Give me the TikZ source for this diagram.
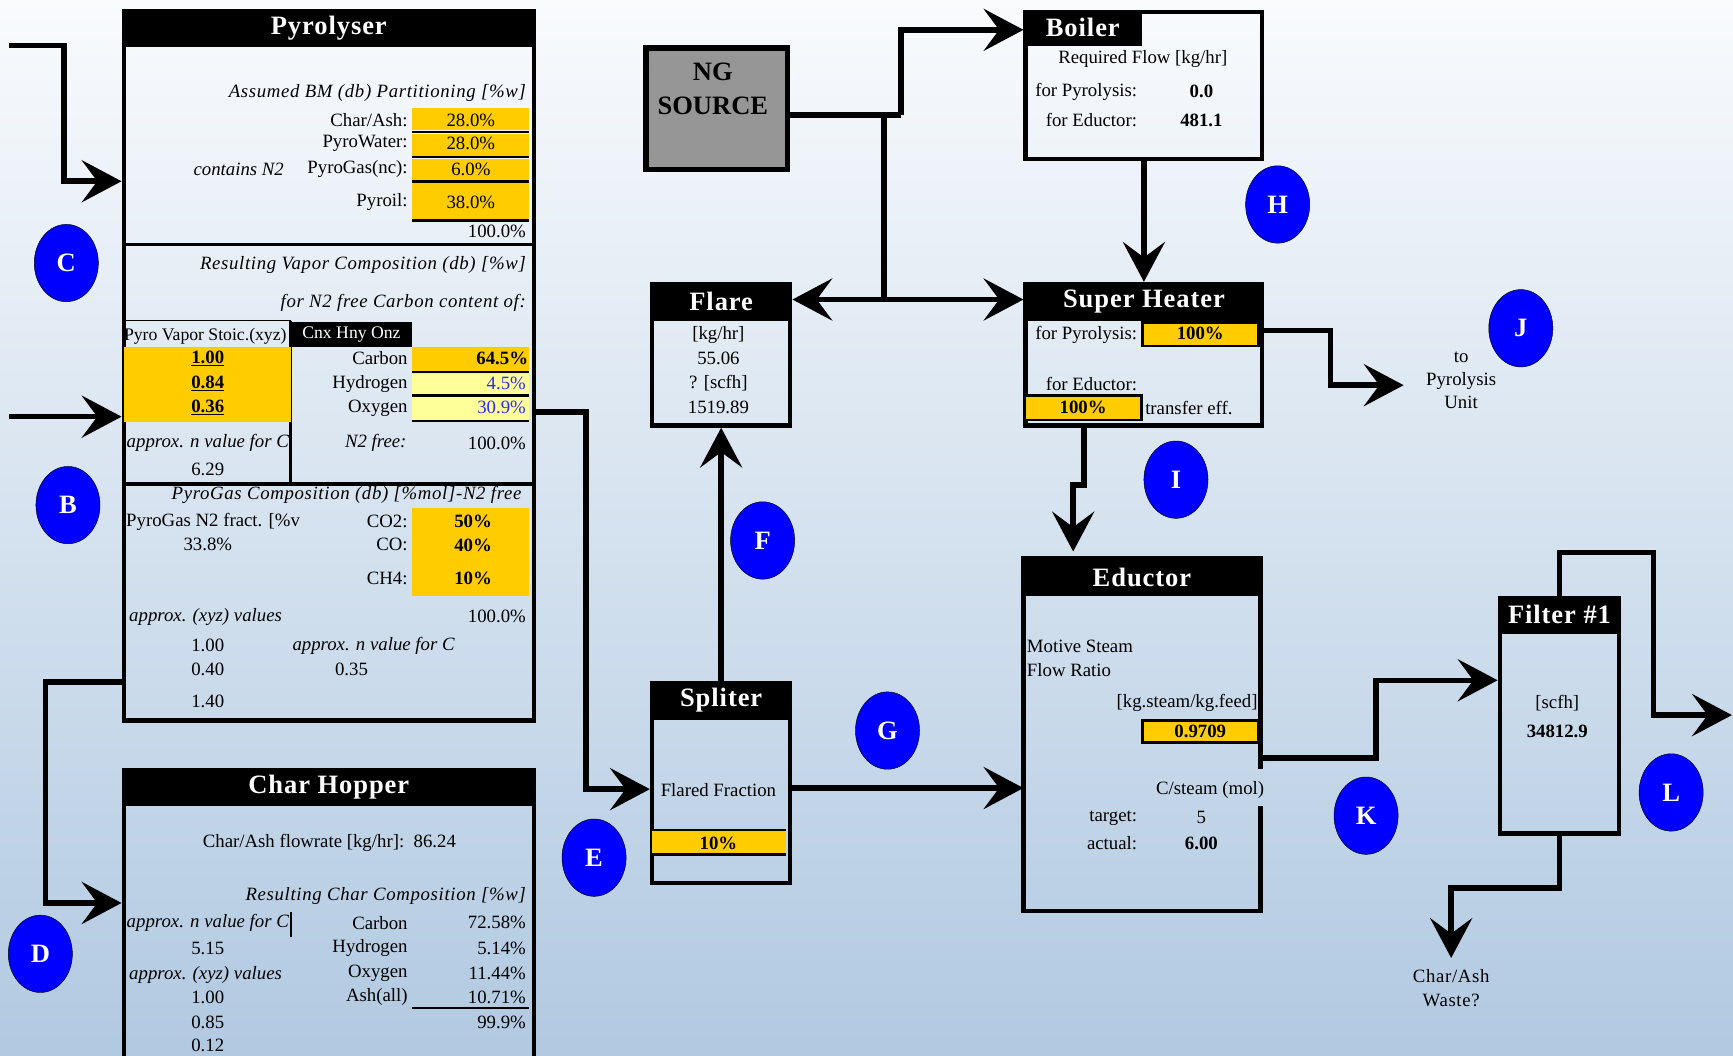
\documentclass[tikz,border=0pt]{standalone}
\usepackage{fontspec}
\setmainfont{Liberation Serif}
\newfontfamily\spacedserif[LetterSpace=3.5]{Liberation Serif}
\usetikzlibrary{arrows.meta,positioning,shapes.geometric}

\definecolor{cellgold}{HTML}{FFCC00}
\definecolor{celllight}{HTML}{FFFF99}
\definecolor{tagblue}{HTML}{0000FF}
\definecolor{valblue}{HTML}{2B2BFF}
\definecolor{bgtop}{HTML}{F9FBFD}
\definecolor{bgbot}{HTML}{B1C9E1}
\definecolor{nggray}{HTML}{969696}

\tikzset{
  unitbox/.style={draw, line width=4pt, inner sep=0pt},
  headbar/.style={fill=black, text=white, inner sep=0pt, font=\fontsize{24}{26}\spacedserif\bfseries},
  txt/.style={inner sep=0pt, font=\fontsize{17}{19}\selectfont},
  itxt/.style={inner sep=0pt, font=\fontsize{17}{19}\spacedserif\itshape},
  ntxt/.style={inner sep=0pt, font=\fontsize{17}{19}\selectfont\itshape},
  btxt/.style={inner sep=0pt, font=\fontsize{17}{19}\selectfont\bfseries},
  gold/.style={fill=cellgold},
  sep/.style={line width=2.5pt},
  pipe/.style={line width=5pt},
  flow/.style={line width=5pt, -{Stealth[length=36pt,width=38pt,inset=14pt]}},
  tag/.style={ellipse, draw, thin, fill=tagblue, text=white, minimum width=58pt, minimum height=70pt, inner sep=0pt, font=\fontsize{24}{26}\selectfont\bfseries},
}

\begin{document}
\begin{tikzpicture}[x=1pt, y=-1pt]
    \useasboundingbox (0,0) rectangle (1568,955.4);
    \clip (0,0) rectangle (1568,955.4);
    % Background
    \shade[top color=bgtop, bottom color=bgbot] (0,0) rectangle (1568,955.4);

    % Pyrolyser
    \node[unitbox, minimum width=371pt, minimum height=642pt, anchor=north west] (pyro) at (110,8) {};
    \node[headbar, minimum width=371pt, minimum height=34pt, anchor=north] (pyrohead) at (pyro.north) {Pyrolyser};
    \draw[line width=3pt] (110,221) -- (481,221);
    \draw[line width=3pt] (110,438) -- (481,438);

    % partitioning
    \node[itxt, anchor=east] (bmpart) at (476,84) {Assumed BM (db) Partitioning [\%w]};
    \fill[gold] (373,98) rectangle (479,118);
    \fill[gold] (373,121) rectangle (479,141);
    \fill[gold] (373,144) rectangle (479,163);
    \fill[gold] (373,166) rectangle (479,198);
    \foreach \y in {119.5,142,164.5,199.5}
        \draw[sep] (373,\y) -- (479,\y);
    \node[txt, anchor=east] (charlab) at (369,109) {Char/Ash:};
    \node[txt] (charval) at (426,109) {28.0\%};
    \node[txt, anchor=east] (waterlab) at (369,130) {PyroWater:};
    \node[txt] (waterval) at (426,130) {28.0\%};
    \node[ntxt, anchor=east] (contn2) at (257,153) {contains N2};
    \node[txt, anchor=east] (gaslab) at (369,153) {PyroGas(nc):};
    \node[txt] (gasval) at (426,153) {6.0\%};
    \node[txt, anchor=east] (oillab) at (369,183) {Pyroil:};
    \node[txt] (oilval) at (426,183) {38.0\%};
    \node[txt, anchor=east] (parttot) at (476,209) {100.0\%};

    % vapor composition
    \node[itxt, anchor=east] (vaphead) at (476,240) {Resulting Vapor Composition (db) [\%w]};
    \node[itxt, anchor=east] (vapsub) at (476,274) {for N2 free Carbon content of:};
    \draw[line width=1.5pt] (112,290) -- (263,290);
    \draw[line width=3pt] (263,290) -- (263,438);
    \fill[black] (263,291) rectangle (373,314);
    \node[txt, font=\fontsize{16}{18}\selectfont, anchor=west] (stoic) at (112,304) {Pyro Vapor Stoic.(xyz)};
    \node[txt, font=\fontsize{16}{18}\selectfont, text=white] (cnx) at (318,303) {Cnx Hny Onz};
    \fill[gold] (112,314) rectangle (263,382);
    \fill[gold] (373,314) rectangle (479,335.5);
    \fill[celllight] (373,338) rectangle (479,357);
    \fill[celllight] (373,359) rectangle (479,380);
    \foreach \y in {336.5,358,381}
        \draw[sep] (373,\y) -- (479,\y);
    \node[btxt] (xval) at (188,324) {\underline{1.00}};
    \node[btxt] (yval) at (188,347) {\underline{0.84}};
    \node[btxt] (zval) at (188,369) {\underline{0.36}};
    \node[txt, anchor=east] (carblab) at (369,324) {Carbon};
    \node[btxt, anchor=east] (carbval) at (478,324) {64.5\%};
    \node[txt, anchor=east] (hydlab) at (369,347) {Hydrogen};
    \node[txt, anchor=east, text=valblue] (hydval) at (476,347) {4.5\%};
    \node[txt, anchor=east] (oxylab) at (369,369) {Oxygen};
    \node[txt, anchor=east, text=valblue] (oxyval) at (476,369) {30.9\%};
    \node[ntxt] (vapnlab) at (188,401) {approx. n value for C};
    \node[txt] (vapn) at (188,425) {6.29};
    \node[ntxt] (n2free) at (340,401) {N2 free:};
    \node[txt, anchor=east] (vaptot) at (476,401) {100.0\%};

    % pyrogas composition
    \node[itxt, anchor=east] (gashead) at (472,448) {PyroGas Composition (db) [\%mol]-N2 free};
    \node[txt, anchor=west] (gasfract) at (114,472) {PyroGas N2 fract. [\%v};
    \node[txt] (gasfval) at (188,493) {33.8\%};
    \fill[gold] (373,460) rectangle (479,539);
    \node[txt, anchor=east] (co2lab) at (369,472) {CO2:};
    \node[btxt] (co2val) at (428,472) {50\%};
    \node[txt, anchor=east] (colab) at (369,493) {CO:};
    \node[btxt] (coval) at (428,493) {40\%};
    \node[txt, anchor=east] (ch4lab) at (369,523) {CH4:};
    \node[btxt] (ch4val) at (428,523) {10\%};
    \node[ntxt] (gasxyz) at (186,558) {approx. (xyz) values};
    \node[txt, anchor=east] (gastot) at (476,558) {100.0\%};
    \node[txt] (gasx) at (188,584) {1.00};
    \node[txt] (gasy) at (188,606) {0.40};
    \node[txt] (gasz) at (188,635) {1.40};
    \node[ntxt] (gasnlab) at (338,584) {approx. n value for C};
    \node[txt] (gasn) at (318,606) {0.35};

    % Char Hopper
    \node[unitbox, minimum width=371pt, minimum height=320pt, anchor=north west] (hopper) at (110,695) {};
    \node[headbar, minimum width=371pt, minimum height=34pt, anchor=north] (hophead) at (hopper.north) {Char Hopper};
    \node[txt] (hoprate) at (298,763) {Char/Ash flowrate [kg/hr]:\ \ 86.24};
    \node[itxt, anchor=east] (hopcomp) at (476,811) {Resulting Char Composition [\%w]};
    \node[ntxt] (hopnlab) at (188,835) {approx. n value for C};
    \draw[line width=1.5pt] (263,825) -- (263,848);
    \node[txt] (hopn) at (188,858) {5.15};
    \node[ntxt] (hopxyz) at (186,882) {approx. (xyz) values};
    \node[txt] (hopx) at (188,902) {1.00};
    \node[txt] (hopy) at (188,925) {0.85};
    \node[txt] (hopz) at (188,946) {0.12};
    \node[txt, anchor=east] (hcarb) at (369,835) {Carbon};
    \node[txt, anchor=east] (hcarbv) at (476,835) {72.58\%};
    \node[txt, anchor=east] (hhyd) at (369,858) {Hydrogen};
    \node[txt, anchor=east] (hhydv) at (476,858) {5.14\%};
    \node[txt, anchor=east] (hoxy) at (369,881) {Oxygen};
    \node[txt, anchor=east] (hoxyv) at (476,881) {11.44\%};
    \node[txt, anchor=east] (hash) at (369,902) {Ash(all)};
    \node[txt, anchor=east] (hashv) at (476,902) {10.71\%};
    \draw[line width=1.5pt] (373,912) -- (479,912);
    \node[txt, anchor=east] (htot) at (476,925) {99.9\%};

    % NG source
    \node[draw, line width=5pt, fill=nggray, minimum width=128pt, minimum height=110pt, anchor=north west] (ng) at (582,41) {};
    \node[btxt, font=\fontsize{24}{26}\selectfont\bfseries] (nglab) at (645,65) {NG};
    \node[btxt, font=\fontsize{24}{26}\selectfont\bfseries] (ngsrc) at (645,96) {SOURCE};

    % Boiler
    \node[unitbox, minimum width=214pt, minimum height=133pt, anchor=north west] (boiler) at (926,9) {};
    \node[headbar, minimum width=107pt, minimum height=32pt, anchor=north west] (boilhead) at (boiler.north west) {Boiler};
    \node[txt] (boilreq) at (1034,53) {Required Flow [kg/hr]};
    \node[txt, anchor=east] (boilpyl) at (1029,83) {for Pyrolysis:};
    \node[btxt] (boilpyv) at (1087,83) {0.0};
    \node[txt, anchor=east] (boiledl) at (1029,109) {for Eductor:};
    \node[btxt] (boiledv) at (1087,109) {481.1};

    % Super Heater
    \node[unitbox, minimum width=214pt, minimum height=128pt, anchor=north west] (heater) at (926,255) {};
    \node[headbar, minimum width=214pt, minimum height=35pt, anchor=north] (heathead) at (heater.north) {Super Heater};
    \draw[gold, draw=black, line width=2.5pt] (1034,292) rectangle (1139,313);
    \draw[gold, draw=black, line width=2.5pt] (927,358) rectangle (1033,380);
    \node[txt, anchor=east] (heatpyl) at (1029,303) {for Pyrolysis:};
    \node[btxt] (heatpyv) at (1086,302) {100\%};
    \node[txt, anchor=east] (heatedl) at (1029,347) {for Eductor:};
    \node[btxt] (heatedv) at (980,369) {100\%};
    \node[txt, anchor=west] (heateff) at (1036,369) {transfer eff.};

    % Flare
    \node[unitbox, minimum width=125pt, minimum height=128pt, anchor=north west] (flare) at (588,255) {};
    \node[headbar, minimum width=125pt, minimum height=35pt, anchor=north] (flarehead) at (flare.north) {Flare};
    \node[txt] (flarekg) at (650,303) {[kg/hr]};
    \node[txt] (flarekgv) at (650,324) {55.06};
    \node[txt] (flarescf) at (650,347) {? [scfh]};
    \node[txt] (flarescfv) at (650,369) {1519.89};

    % Spliter
    \node[unitbox, minimum width=125pt, minimum height=181pt, anchor=north west] (split) at (588,616) {};
    \node[headbar, minimum width=125pt, minimum height=35pt, anchor=north] (splithead) at (split.north) {Spliter};
    \node[txt] (splitlab) at (650,715) {Flared Fraction};
    \fill[gold] (590,752) rectangle (711,772);
    \draw[sep] (590,751) -- (711,751);
    \draw[sep] (590,773) -- (711,773);
    \node[btxt] (splitval) at (650,763) {10\%};

    % Eductor (right side open behind the C/steam label)
    \node[minimum width=214pt, minimum height=319pt, inner sep=0pt, anchor=north west] (educ) at (926,505) {};
    \draw[line width=4pt] (educ.east |- 0,696) |- (educ.north west) |- (educ.south east) -- (educ.east |- 0,729);
    \node[headbar, minimum width=214pt, minimum height=34pt, anchor=north] (educhead) at (educ.north) {Eductor};
    \node[txt, anchor=west] (motive) at (929,585) {Motive Steam};
    \node[txt, anchor=west] (flowrat) at (929,606) {Flow Ratio};
    \node[txt, anchor=east] (kgunit) at (1138,636) {[kg.steam/kg.feed]};
    \draw[gold, draw=black, line width=2.5pt] (1034,652) rectangle (1139,672);
    \node[btxt] (ratio) at (1086,662) {0.9709};
    \node[txt, anchor=east] (csteam) at (1144,715) {C/steam (mol)};
    \node[txt, anchor=east] (targlab) at (1029,740) {target:};
    \node[txt] (targval) at (1087,740) {5};
    \node[txt, anchor=east] (actlab) at (1029,763) {actual:};
    \node[btxt] (actval) at (1087,763) {6.00};

    % Filter #1
    \node[unitbox, minimum width=108pt, minimum height=213pt, anchor=north west] (filter) at (1355,539) {};
    \node[headbar, minimum width=108pt, minimum height=34pt, anchor=north] (filthead) at (filter.north) {Filter \#1};
    \node[txt] (filtunit) at (1409,636) {[scfh]};
    \node[btxt] (filtval) at (1409,662) {34812.9};

    % free labels
    \node[txt, align=center, font=\fontsize{17}{21}\selectfont] (tounit) at (1322,344) {to\\Pyrolysis\\Unit};
    \node[txt, align=center, font=\fontsize{17}{22}\spacedserif] (waste) at (1313,894) {Char/Ash\\Waste?};

    % Connectors
    \coordinate (cin) at (8,41);
    \coordinate (bin) at (8,377);
    \coordinate (jout) at (1270,348.5);
    \coordinate (lout) at (1567,647);
    \draw[flow] (cin) -- (58,41) -- (58,164) -- (pyro.west |- 0,164);
    \draw[flow] (bin) -- (pyro.west |- bin);
    \draw[flow] (pyro.west |- 0,617) -- (41,617) -- (41,817) -- (hopper.west |- 0,817);
    \draw[flow] (pyro.east |- 0,373) -- (530,373) |- (split.west |- 0,714);
    \draw[flow] (split.north) -- (flare.south);
    \draw[flow] (split.east |- 0,713) -- (educ.west |- 0,713);
    \draw[pipe] (ng.east |- 0,104) -- (815,104);
    \draw[flow] (815,104) |- (boiler.west |- 0,27);
    \draw[pipe] (800,104) -- (800,271);
    \draw[flow] (800,271) -- (flare.east |- 0,271);
    \draw[flow] (800,271) -- (heater.west |- 0,271);
    \draw[flow] (boiler.south) -- (heater.north);
    \draw[flow] (heater.east |- 0,299) -- (1204,299) |- (jout);
    \draw[flow] (heater.south -| 981,0) -- (981,439) -- (971,439) -- ([yshift=6pt]educ.north -| 971,0);
    \draw[flow] (educ.east |- 0,686) -- (1245,686) |- (filter.west |- 0,615.5);
    \draw[flow] (filter.north) -- (filter.north |- 0,500) -- (1496,500) |- (lout);
    \draw[flow] (filter.south) -- (filter.south |- 0,803.5) -- (1313,803.5) -- ([yshift=10pt]waste.north);

    % Tags
    \foreach \nm/\x/\y in {C/60/238, B/61.5/457, D/36.5/863, E/537.5/776, F/690/489, G/803/661,
                          H/1156/185, I/1064/434, J/1376/297, K/1236/738, L/1512/717}
        \node[tag] (tag\nm) at (\x,\y) {\nm};
\end{tikzpicture}
\end{document}
